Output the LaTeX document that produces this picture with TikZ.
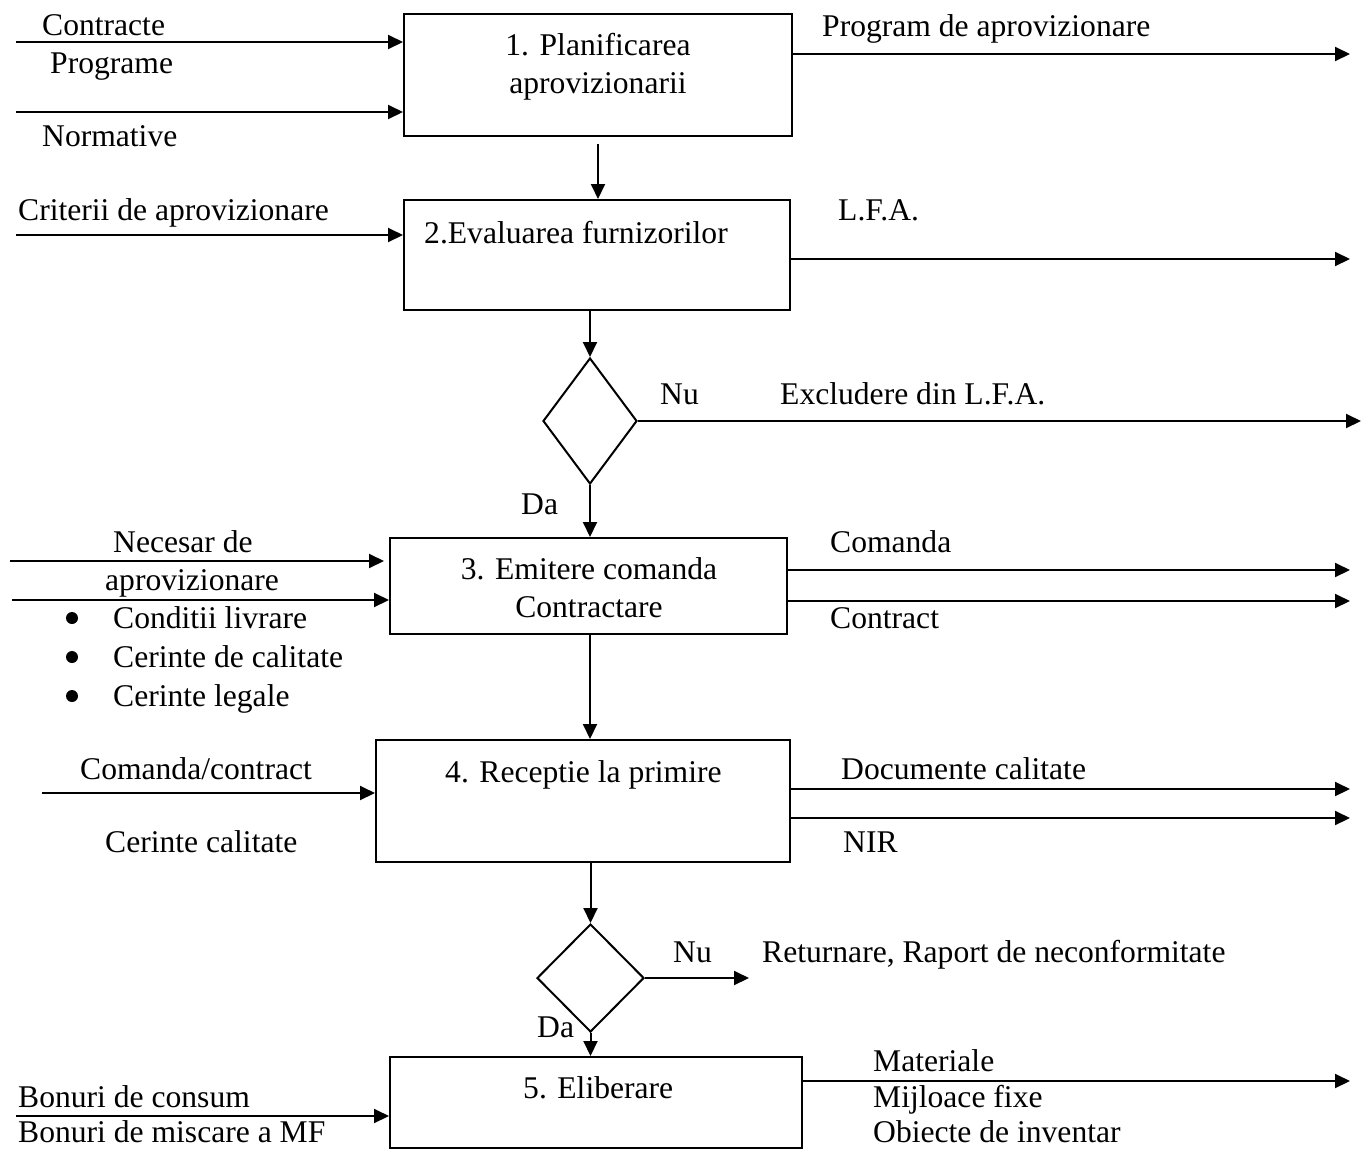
\documentclass[tikz,border=0pt]{standalone}
\usepackage{fontspec}
\setmainfont{Liberation Serif}
\usetikzlibrary{arrows.meta,shapes.geometric}
\newcommand{\fsz}{\fontsize{31.6}{38}\selectfont}
\begin{document}
\begin{tikzpicture}[x=1pt,y=-1pt,
  box/.style={draw, line width=2pt, inner sep=0pt},
  dia/.style={draw, diamond, line width=2pt, inner sep=0pt},
  txt/.style={anchor=base west, inner sep=0pt, font=\fsz},
  ctxt/.style={anchor=base, inner sep=0pt, font=\fsz},
  bul/.style={circle, fill, inner sep=0pt, minimum size=12pt},
  arr/.style={line width=2pt, -{Triangle[length=15pt,width=14pt]}}]
\useasboundingbox (0,0) rectangle (1361,1149);

% boxes
\node[box, minimum width=388pt, minimum height=122pt] (b1) at (598,75) {};
\node[box, minimum width=386pt, minimum height=110pt] (b2) at (597,255) {};
\node[box, minimum width=397pt, minimum height=96pt] (b3) at (588.5,586) {};
\node[box, minimum width=414pt, minimum height=122pt] (b4) at (583,801) {};
\node[box, minimum width=412pt, minimum height=91pt] (b5) at (596,1102.5) {};
\node[dia, minimum width=94pt, minimum height=126pt] (d1) at (590,421) {};
\node[dia, minimum width=107pt, minimum height=108pt] (d2) at (590.5,978) {};

% box texts
\node[ctxt] (t1a) at (598,55) {1. Planificarea};
\node[ctxt] (t1b) at (598,93) {aprovizionarii};
\node[txt] (t2) at (424,243) {2.Evaluarea furnizorilor};
\node[ctxt] (t3a) at (589,579) {3. Emitere comanda};
\node[ctxt] (t3b) at (589,617) {Contractare};
\node[txt] (t4) at (445,782) {4. Receptie la primire};
\node[txt] (t5) at (523,1098) {5. Eliberare};

% side texts
\node[txt] (l1) at (42,35) {Contracte};
\node[txt] (l2) at (50,73) {Programe};
\node[txt] (l3) at (42,146) {Normative};
\node[txt] (r1) at (822,36) {Program de aprovizionare};
\node[txt] (l4) at (18,220) {Criterii de aprovizionare};
\node[txt] (r2) at (838,220) {L.F.A.};
\node[txt] (nu1) at (660,404) {Nu};
\node[txt] (r3) at (780,404) {Excludere din L.F.A.};
\node[txt] (da1) at (521,514) {Da};
\node[txt] (l5) at (113,552) {Necesar de};
\node[txt] (l6) at (105,590) {aprovizionare};
\node[bul] (bu1) at (72,618) {};
\node[bul] (bu2) at (72,657) {};
\node[bul] (bu3) at (72,696) {};
\node[txt] (l7) at (113,628) {Conditii livrare};
\node[txt] (l8) at (113,667) {Cerinte de calitate};
\node[txt] (l9) at (113,706) {Cerinte legale};
\node[txt] (r4) at (830,552) {Comanda};
\node[txt] (r5) at (830,628) {Contract};
\node[txt] (l10) at (80,779) {Comanda/contract};
\node[txt] (l11) at (105,852) {Cerinte calitate};
\node[txt] (r6) at (841,779) {Documente calitate};
\node[txt] (r7) at (843,852) {NIR};
\node[txt] (nu2) at (673,962) {Nu};
\node[txt] (r8) at (762,962) {Returnare, Raport de neconformitate};
\node[txt] (da2) at (537,1037) {Da};
\node[txt] (l12) at (18,1107) {Bonuri de consum};
\node[txt] (l13) at (18,1142) {Bonuri de miscare a MF};
\node[txt] (r9) at (873,1071) {Materiale};
\node[txt] (r10) at (873,1107) {Mijloace fixe};
\node[txt] (r11) at (873,1142) {Obiecte de inventar};

% free ends
\coordinate (in1) at (16,42);
\coordinate (in2) at (16,112);
\coordinate (o1) at (1350,54);
\coordinate (in3) at (16,235);
\coordinate (o2) at (1350,259);
\coordinate (e1) at (1361,421);
\coordinate (in4a) at (10,561);
\coordinate (in4b) at (12,600);
\coordinate (o3a) at (1350,570);
\coordinate (o3b) at (1350,601);
\coordinate (in5) at (42,793);
\coordinate (o4a) at (1350,789);
\coordinate (o4b) at (1350,818);
\coordinate (e2) at (749,978);
\coordinate (in6) at (16,1116);
\coordinate (o5) at (1350,1081);

% connectors
\draw[arr] (in1) -- (in1 -| b1.west);
\draw[arr] (in2) -- (in2 -| b1.west);
\draw[arr] (o1 -| b1.east) -- (o1);
\draw[arr, shorten <=7pt] (b1.south) -- (b1.south |- b2.north);
\draw[arr] (in3) -- (in3 -| b2.west);
\draw[arr] (o2 -| b2.east) -- (o2);
\draw[arr] (d1.north |- b2.south) -- (d1.north);
\draw[arr] (d1.east) -- (d1.east -| e1);
\draw[arr] (d1.south) -- (d1.south |- b3.north);
\draw[arr, shorten >=5pt] (in4a) -- (in4a -| b3.west);
\draw[arr] (in4b) -- (in4b -| b3.west);
\draw[arr] (o3a -| b3.east) -- (o3a);
\draw[arr] (o3b -| b3.east) -- (o3b);
\draw[arr] (d1.south |- b3.south) -- (d1.south |- b4.north);
\draw[arr] (in5) -- (in5 -| b4.west);
\draw[arr] (o4a -| b4.east) -- (o4a);
\draw[arr] (o4b -| b4.east) -- (o4b);
\draw[arr] (d2.north |- b4.south) -- (d2.north);
\draw[arr] (d2.east) -- (d2.east -| e2);
\draw[arr] (d2.south) -- (d2.south |- b5.north);
\draw[arr] (in6) -- (in6 -| b5.west);
\draw[arr] (o5 -| b5.east) -- (o5);
\end{tikzpicture}
\end{document}
